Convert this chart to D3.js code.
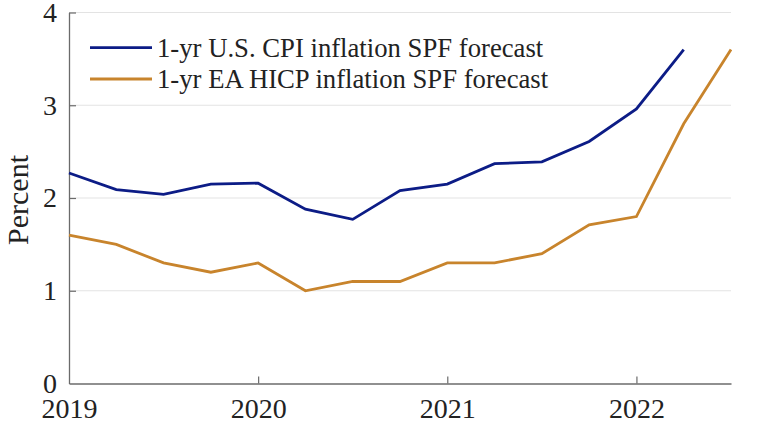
<!DOCTYPE html>
<html><head><meta charset="utf-8">
<script src="https://cdn.jsdelivr.net/npm/d3@7"></script>
<style>body{margin:0;background:#fff}</style>
</head><body>
<svg id="c" width="760" height="432"></svg>
<script>
const quarters = [2019.0,2019.25,2019.5,2019.75,2020.0,2020.25,2020.5,2020.75,2021.0,2021.25,2021.5,2021.75,2022.0,2022.25,2022.5];
const usCPI = [2.27,2.09,2.04,2.15,2.16,1.88,1.77,2.08,2.15,2.37,2.39,2.61,2.96,3.60];
const eaHICP = [1.60,1.50,1.30,1.20,1.30,1.00,1.10,1.10,1.30,1.30,1.40,1.71,1.80,2.80,3.60];
const xTicks = [2019,2020,2021,2022];
const yTicks = [0,1,2,3,4];
const seriesNames = ["1-yr U.S. CPI inflation SPF forecast","1-yr EA HICP inflation SPF forecast"];
const colors = ["#0c1c86","#c8842c"];

const svg = d3.select("#c");
const L=69, R=731, T=12.5, B=383.5;
const x = d3.scaleLinear().domain([2019,2022.5]).range([L,R]);
const y = d3.scaleLinear().domain([0,4]).range([B,T]);
const font = "'Liberation Serif','Times New Roman',serif";

// gridlines
svg.append("g").selectAll("line").data(yTicks.filter(d=>d>0)).join("line")
  .attr("x1",L).attr("x2",R).attr("y1",d=>y(d)).attr("y2",d=>y(d))
  .attr("stroke","#e3e3e3").attr("stroke-width",1);

// axes
const yAxis = d3.axisLeft(y).tickValues(yTicks).tickSize(-7).tickSizeOuter(0).tickPadding(12).tickFormat(d3.format("d"));
const gy = svg.append("g").attr("transform",`translate(${L},0)`).call(yAxis);
const xAxis = d3.axisBottom(x).tickValues(xTicks).tickSize(-7).tickSizeOuter(0).tickPadding(15).tickFormat(d3.format("d"));
const gx = svg.append("g").attr("transform",`translate(0,${B})`).call(xAxis);
[gx,gy].forEach(g=>{
  g.select(".domain").attr("stroke","#6b6b6b").attr("stroke-width",1.3);
  g.selectAll(".tick line").attr("stroke","#6b6b6b").attr("stroke-width",1.2);
  g.selectAll("text").attr("font-family",font).attr("font-size",28).attr("fill","#222");
});
gy.selectAll(".tick").filter(d=>d===0).select("line").remove();
gx.selectAll(".tick").filter(d=>d===2019).select("line").remove();

// lines
const line = d3.line().x((d,i)=>x(quarters[i])).y(d=>y(d));
[usCPI,eaHICP].forEach((s,i)=>{
  svg.append("path").datum(s).attr("d",line).attr("fill","none")
    .attr("stroke",colors[i]).attr("stroke-width",2.8).attr("stroke-linejoin","miter");
});

// y label
svg.append("text").attr("transform","translate(28,200) rotate(-90)")
  .attr("text-anchor","middle").attr("font-family",font).attr("font-size",30).attr("fill","#222").text("Percent");

// legend
const leg = svg.append("g");
seriesNames.forEach((n,i)=>{
  const yy = 47.7 + i*31.3;
  leg.append("line").attr("x1",90).attr("x2",152).attr("y1",yy).attr("y2",yy)
    .attr("stroke",colors[i]).attr("stroke-width",2.8);
  leg.append("text").attr("x",157).attr("y",yy+9).attr("font-family",font).attr("font-size",26.7)
    .attr("fill","#222").text(n);
});
</script>
</body></html>
